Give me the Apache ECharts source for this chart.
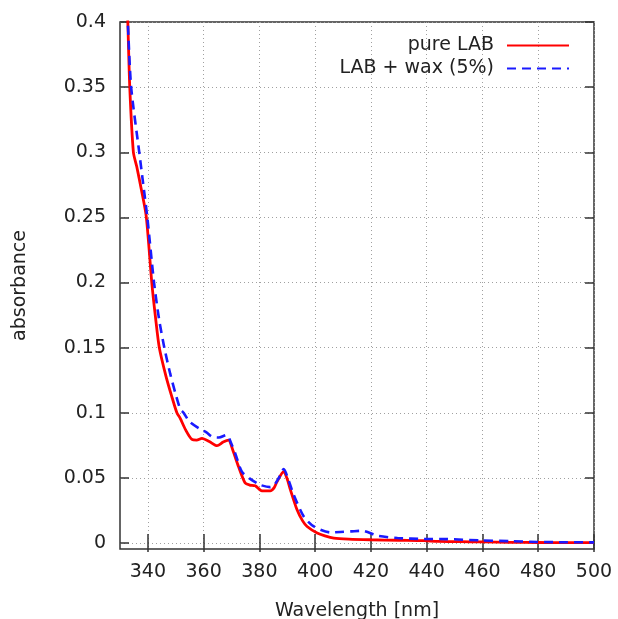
<!DOCTYPE html>
<html>
<head>
<meta charset="utf-8">
<script src="https://cdn.jsdelivr.net/npm/echarts@6/dist/echarts.min.js"></script>
<style>
html, body { margin: 0; padding: 0; background: #fff; }
#main { width: 618px; height: 619px; }
</style>
</head>
<body>
<div id="main"></div>
<script>
// pure LAB
var wlPure = [332.4, 332.8, 333.5, 334.8, 336.0, 337.6, 339.4, 341.4, 342.8, 344.1, 346.5, 348.5, 350.4, 351.6, 353.5, 355.8,
  357.5, 359.4, 362.0, 364.8, 367.0, 368.9, 370.5, 372.5, 374.9, 376.5, 378.5, 380.9, 383.9, 385.3, 386.3, 388.7,
  390.0, 391.1, 393.5, 395.5, 397.1, 400.7, 403.5, 406.7, 412.0, 419.8, 430.0, 439.0, 444.0, 452.0, 460.0, 470.0, 480.0, 490.0, 500.0];
var absPure = [0.42, 0.40, 0.35, 0.30, 0.289, 0.272, 0.251, 0.20, 0.172, 0.15, 0.128, 0.113, 0.10, 0.0957, 0.087, 0.0795,
  0.079, 0.0804, 0.078, 0.0747, 0.0775, 0.079, 0.071, 0.0587, 0.046, 0.0445, 0.0439, 0.040, 0.040, 0.0425, 0.047, 0.0548,
  0.049, 0.041, 0.0255, 0.017, 0.0127, 0.0077, 0.0055, 0.0038, 0.003, 0.0025, 0.0021, 0.0018, 0.0012, 0.001, 0.0008, 0.0005, 0.0004, 0.0003, 0.0003];

// LAB + wax (5%)
var wlWax = [332.4, 332.8, 334.0, 336.9, 338.3, 339.8, 342.2, 344.0, 345.9, 348.0, 350.0, 351.6, 352.8, 355.0, 358.8,
  361.0, 363.0, 365.5, 368.3, 369.8, 371.3, 373.7, 376.7, 380.3, 383.9, 385.5, 386.9, 388.7, 390.5, 392.3, 395.9,
  399.5, 405.5, 409.0, 412.7, 416.9, 422.3, 429.5, 439.0, 447.4, 459.4, 470.0, 479.8, 490.0, 500.0];
var absWax = [0.42, 0.40, 0.35, 0.30, 0.276, 0.25, 0.20, 0.172, 0.15, 0.13, 0.114, 0.103, 0.10, 0.093, 0.0873,
  0.085, 0.0816, 0.081, 0.083, 0.077, 0.0689, 0.0548, 0.0492, 0.0446, 0.0429, 0.045, 0.0498, 0.0567, 0.048, 0.037, 0.0204,
  0.0127, 0.0081, 0.0085, 0.0089, 0.0094, 0.0056, 0.0038, 0.0031, 0.003, 0.002, 0.0014, 0.0008, 0.0006, 0.0005];

var xTicks = [340, 360, 380, 400, 420, 440, 460, 480, 500];
var yTicks = [0, 0.05, 0.1, 0.15, 0.2, 0.25, 0.3, 0.35, 0.4];

function pairs(xs, ys) {
  var out = [];
  for (var i = 0; i < xs.length; i++) out.push([xs[i], ys[i]]);
  return out;
}

var chart = echarts.init(document.getElementById('main'));
var font = 'DejaVu Sans';
var frameColor = '#333333';
var gridLine = { show: true, lineStyle: { color: '#a0a0a0', type: [1, 3], width: 1 } };

var option = {
  backgroundColor: '#ffffff',
  animation: false,
  grid: {
    left: 120, right: 24, top: 22, bottom: 70,
    outerBoundsMode: 'none',
    show: true, borderColor: frameColor, borderWidth: 1.5
  },
  legend: {
    orient: 'vertical',
    right: 43,
    top: 31,
    align: 'right',
    itemWidth: 62,
    itemHeight: 14,
    itemGap: 4,
    itemStyle: { opacity: 0 },
    textStyle: { fontFamily: font, fontSize: 19, color: '#222', padding: [0, 8, 0, 0] },
    data: ['pure LAB', 'LAB + wax (5%)']
  },
  xAxis: [{
    type: 'value', min: 330, max: 500,
    name: 'Wavelength [nm]', nameLocation: 'middle', nameGap: 53,
    nameTextStyle: { fontFamily: font, fontSize: 19, color: '#222' },
    axisLine: { show: false },
    axisTick: { inside: true, length: 9, customValues: xTicks, lineStyle: { color: frameColor, width: 1.5 } },
    axisLabel: { customValues: xTicks, fontFamily: font, fontSize: 19, color: '#222', margin: 14 },
    splitLine: gridLine
  }, {
    type: 'value', min: 330, max: 500, position: 'top',
    axisLine: { show: false },
    axisTick: { inside: true, length: 9, customValues: xTicks, lineStyle: { color: frameColor, width: 1.5 } },
    axisLabel: { show: false },
    splitLine: { show: false }
  }],
  yAxis: [{
    type: 'value', min: -0.0046, max: 0.4,
    name: 'absorbance', nameLocation: 'middle', nameGap: 90, nameRotate: 90,
    nameTextStyle: { fontFamily: font, fontSize: 19, color: '#222' },
    axisLine: { show: false },
    axisTick: { inside: true, length: 9, customValues: yTicks, lineStyle: { color: frameColor, width: 1.5 } },
    axisLabel: { customValues: yTicks, fontFamily: font, fontSize: 19, color: '#222', margin: 14 },
    splitLine: gridLine
  }, {
    type: 'value', min: -0.0046, max: 0.4, position: 'right',
    axisLine: { show: false },
    axisTick: { inside: true, length: 9, customValues: yTicks, lineStyle: { color: frameColor, width: 1.5 } },
    axisLabel: { show: false },
    splitLine: { show: false }
  }],
  series: [{
    name: 'pure LAB',
    type: 'line',
    data: pairs(wlPure, absPure),
    showSymbol: false,
    symbol: 'none',
    smooth: 0.25,
    color: '#ff0000',
    lineStyle: { color: '#ff0000', width: 2.8 }
  }, {
    name: 'LAB + wax (5%)',
    type: 'line',
    data: pairs(wlWax, absWax),
    showSymbol: false,
    symbol: 'none',
    smooth: 0.25,
    color: '#0000ff',
    lineStyle: { color: '#1a1aff', width: 2.6, type: [9, 6] }
  }]
};

chart.setOption(option);
</script>
</body>
</html>
